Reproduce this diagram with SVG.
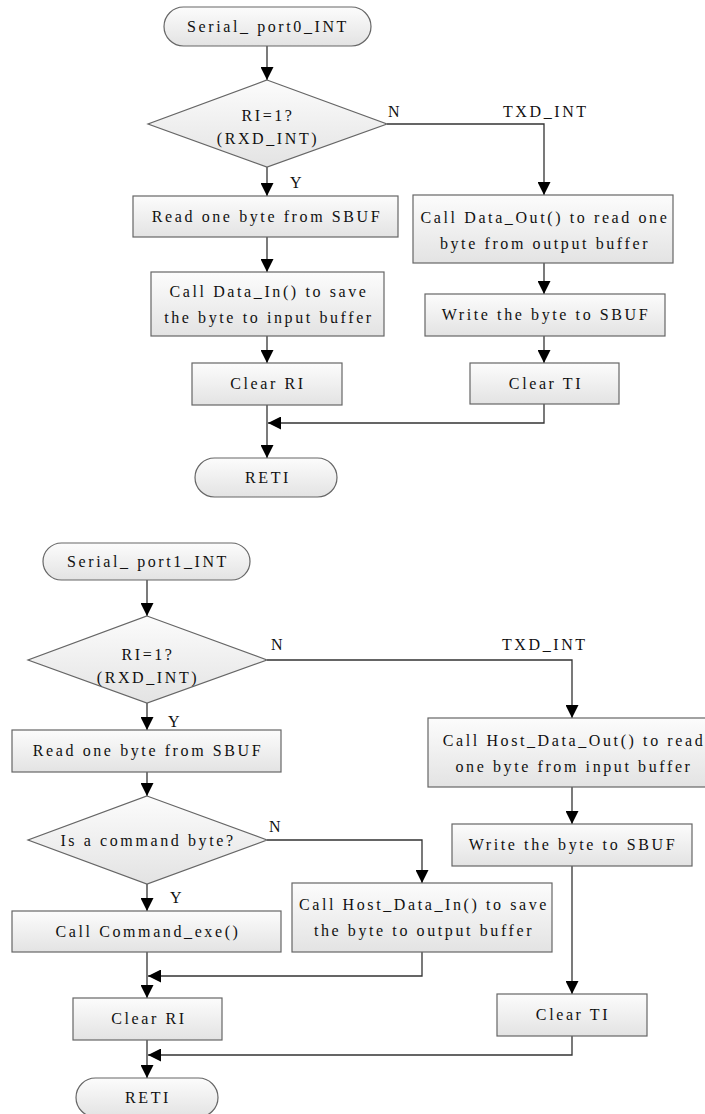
<svg xmlns="http://www.w3.org/2000/svg" width="705" height="1114" viewBox="0 0 705 1114">
<defs>
<linearGradient id="g" x1="0" y1="0" x2="0" y2="1">
<stop offset="0" stop-color="#fcfcfc"/>
<stop offset="1" stop-color="#e3e3e3"/>
</linearGradient>
<marker id="arr" markerUnits="userSpaceOnUse" markerWidth="14" markerHeight="13" refX="13" refY="6.5" orient="auto">
<path d="M0,0 L13,6.5 L0,13 z" fill="#000"/>
</marker>
</defs>
<style>
.n{fill:url(#g);stroke:#666;stroke-width:1.2}
.t{font-family:"Liberation Serif","Times New Roman",serif;font-size:16px;letter-spacing:2.6px;fill:#111;text-anchor:middle}
.l{font-family:"Liberation Serif","Times New Roman",serif;font-size:16px;letter-spacing:2.6px;fill:#111}
.c{fill:none;stroke:#333;stroke-width:1.3;marker-end:url(#arr)}
</style>
<rect width="705" height="1114" fill="#fff"/>

<g id="connectors">
<line class="c" x1="267" y1="46" x2="267" y2="80"/>
<line class="c" x1="267" y1="167" x2="267" y2="196"/>
<line class="c" x1="267" y1="237" x2="267" y2="272"/>
<line class="c" x1="267" y1="336" x2="267" y2="363"/>
<line class="c" x1="267" y1="405" x2="267" y2="458"/>
<polyline class="c" points="387,124 544,124 544,195"/>
<line class="c" x1="544" y1="263" x2="544" y2="294"/>
<line class="c" x1="544" y1="336" x2="544" y2="363"/>
<polyline class="c" points="544,404 544,423 268,423"/>

<line class="c" x1="147" y1="580" x2="147" y2="616"/>
<line class="c" x1="147" y1="703" x2="147" y2="730"/>
<line class="c" x1="147" y1="772" x2="147" y2="796"/>
<line class="c" x1="147" y1="884" x2="147" y2="911"/>
<line class="c" x1="147" y1="952" x2="147" y2="998"/>
<line class="c" x1="147" y1="1040" x2="147" y2="1078"/>
<polyline class="c" points="267,660 572,660 572,718"/>
<line class="c" x1="572" y1="787" x2="572" y2="824"/>
<line class="c" x1="572" y1="866" x2="572" y2="994"/>
<polyline class="c" points="572,1036 572,1055 148,1055"/>
<polyline class="c" points="267,840 422,840 422,883"/>
<polyline class="c" points="422,952 422,976 148,976"/>

<text class="l" x="388" y="117">N</text>
<text class="l" x="290" y="188">Y</text>
<text class="l" x="503" y="117">TXD_INT</text>
<text class="l" x="271" y="650">N</text>
<text class="l" x="168" y="727">Y</text>
<text class="l" x="502" y="650">TXD_INT</text>
<text class="l" x="269" y="832">N</text>
<text class="l" x="170" y="903">Y</text>
</g>

<g id="start0">
<rect class="n" x="164" y="7" width="207" height="39" rx="19.5"/>
<text class="t" x="268" y="32">Serial_ port0_INT</text>
</g>
<g id="dec0">
<polygon class="n" points="267,80 387,124 267,167 148,124"/>
<text class="t" x="268" y="121">RI=1?</text>
<text class="t" x="268" y="144">(RXD_INT)</text>
</g>
<g id="read0">
<rect class="n" x="133" y="196" width="265" height="41"/>
<text class="t" x="267" y="222">Read one byte from SBUF</text>
</g>
<g id="datain0">
<rect class="n" x="151" y="272" width="233" height="64"/>
<text class="t" x="269" y="297">Call Data_In() to save</text>
<text class="t" x="269" y="323">the byte to input buffer</text>
</g>
<g id="clearri0">
<rect class="n" x="192" y="363" width="150" height="42"/>
<text class="t" x="268" y="389">Clear RI</text>
</g>
<g id="reti0">
<rect class="n" x="195" y="458" width="142" height="39" rx="19.5"/>
<text class="t" x="268" y="483">RETI</text>
</g>
<g id="dataout0">
<rect class="n" x="413" y="195" width="260" height="68"/>
<text class="t" x="545" y="223">Call Data_Out() to read one</text>
<text class="t" x="545" y="249">byte from output buffer</text>
</g>
<g id="write0">
<rect class="n" x="425" y="294" width="240" height="42"/>
<text class="t" x="546" y="320">Write the byte to SBUF</text>
</g>
<g id="clearti0">
<rect class="n" x="470" y="363" width="149" height="41"/>
<text class="t" x="546" y="389">Clear TI</text>
</g>

<g id="start1">
<rect class="n" x="43" y="543" width="207" height="37" rx="18.5"/>
<text class="t" x="148" y="567">Serial_ port1_INT</text>
</g>
<g id="dec1">
<polygon class="n" points="147,616 267,660 147,703 28,660"/>
<text class="t" x="148" y="660">RI=1?</text>
<text class="t" x="148" y="683">(RXD_INT)</text>
</g>
<g id="read1">
<rect class="n" x="12" y="730" width="269" height="42"/>
<text class="t" x="148" y="756">Read one byte from SBUF</text>
</g>
<g id="dec2">
<polygon class="n" points="147,796 267,840 147,884 28,840"/>
<text class="t" x="148" y="846">Is a command byte?</text>
</g>
<g id="cmd1">
<rect class="n" x="12" y="911" width="269" height="41"/>
<text class="t" x="148" y="937">Call Command_exe()</text>
</g>
<g id="hostin1">
<rect class="n" x="292" y="883" width="260" height="69"/>
<text class="t" x="424" y="910">Call Host_Data_In() to save</text>
<text class="t" x="424" y="936">the byte to output buffer</text>
</g>
<g id="clearri1">
<rect class="n" x="73" y="998" width="149" height="42"/>
<text class="t" x="149" y="1024">Clear RI</text>
</g>
<g id="reti1">
<rect class="n" x="76" y="1078" width="142" height="39" rx="19.5"/>
<text class="t" x="148" y="1103">RETI</text>
</g>
<g id="hostout1">
<rect class="n" x="428" y="718" width="288" height="69"/>
<text class="t" x="574" y="746">Call Host_Data_Out() to read</text>
<text class="t" x="574" y="772">one byte from input buffer</text>
</g>
<g id="write1">
<rect class="n" x="452" y="824" width="240" height="42"/>
<text class="t" x="573" y="850">Write the byte to SBUF</text>
</g>
<g id="clearti1">
<rect class="n" x="497" y="994" width="150" height="42"/>
<text class="t" x="573" y="1020">Clear TI</text>
</g>
</svg>
